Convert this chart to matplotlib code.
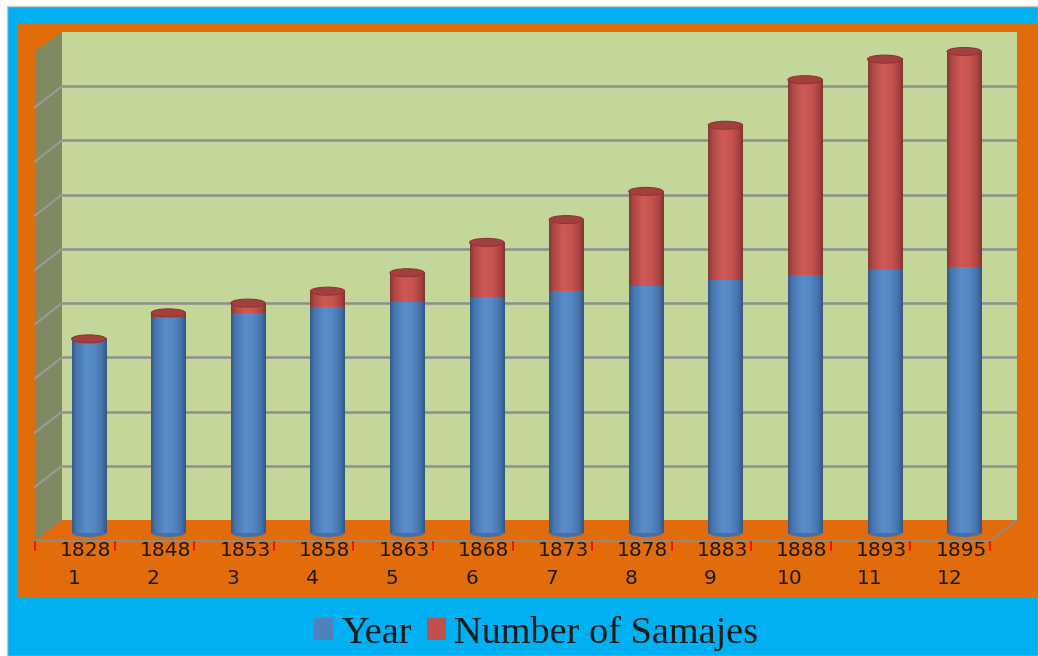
import numpy as np
import matplotlib
matplotlib.use('Agg')
import matplotlib.pyplot as plt
from matplotlib.patches import Rectangle, Polygon, Ellipse
from matplotlib.colors import LinearSegmentedColormap
from matplotlib.transforms import offset_copy

# ---- data ----
years = [1828, 1848, 1853, 1858, 1863, 1868, 1873, 1878, 1883, 1888, 1893, 1895]
index_labels = ['1', '2', '3', '4', '5', '6', '7', '8', '9', '10', '11', '12']
samajes = [1, 5, 9, 15, 27, 50, 66, 87, 143, 180, 194, 199]
series_names = ['Year', 'Number of Samajes']
y_min, y_max, y_step = 1650, 2100, 50

# ---- figure ----
W, H = 1038, 656
fig = plt.figure(figsize=(W / 100, H / 100), dpi=100)
fig.patch.set_facecolor('white')

bg = fig.add_axes([0, 0, 1, 1])
bg.set_xlim(0, W)
bg.set_ylim(H, 0)
bg.axis('off')
bg.add_patch(Rectangle((7, 6), W - 7, H - 6, fc='#00B0F0', ec='#C8C8C8', lw=1))
bg.add_patch(Rectangle((18, 23), W - 18, 597 - 23, fc='#E36C0A', ec='none'))

# plot wall geometry (pixels)
L, R, T, B = 62, 1017, 32, 520
DX, DY = 27, 21  # depth of 3D box
bg.add_patch(Polygon([(L - DX, T + DY - 2), (L, T), (L, B), (L - DX, B + DY)],
                     closed=True, fc='#7F8A63', ec='none'))
bg.plot([L - DX, R - DX, R], [B + DY, B + DY, B], color='#8C8C8C', lw=1.3)

ax = fig.add_axes([L / W, 1 - B / H, (R - L) / W, (B - T) / H])
ax.set_facecolor('#C4D79B')
ticks = np.arange(y_min + y_step, y_max, y_step)
ax.set_yticks(ticks)
ax.yaxis.grid(True, color='#8E8E8E', lw=1.8)
ax.set_axisbelow(True)
ax.tick_params(left=False, bottom=False, labelleft=False, labelbottom=False)
for s in ax.spines.values():
    s.set_visible(False)

# side-wall gridlines, from tick values
for t in ticks:
    yp = B - (t - y_min) / (y_max - y_min) * (B - T)
    bg.plot([L, L - DX], [yp, yp + DY], color='#9A9A9A', lw=1.5)

# ---- cylinders ----
n = len(years)
x = np.arange(n)
bw = 0.43
shift = offset_copy(ax.transData, fig=fig, x=-13, y=-13, units='dots')
yr = np.array(years, dtype=float)
tot = yr + np.array(samajes, dtype=float)

b1 = ax.bar(x, yr - y_min, bottom=y_min, width=bw, color='#4F81BD',
            transform=shift, clip_on=False, zorder=3, label=series_names[0])
b2 = ax.bar(x, tot - yr, bottom=yr, width=bw, color='#C0504D',
            transform=shift, clip_on=False, zorder=3, label=series_names[1])

cmap_b = LinearSegmentedColormap.from_list('b', [(0, '#365A88'), (0.12, '#4674AE'),
                                                 (0.4, '#5A8DCC'), (0.65, '#5587C4'),
                                                 (0.88, '#4470A8'), (1, '#34557F')])
cmap_r = LinearSegmentedColormap.from_list('r', [(0, '#873735'), (0.12, '#AE4744'),
                                                 (0.4, '#CF5956'), (0.65, '#C9534F'),
                                                 (0.88, '#A94441'), (1, '#803332')])
grad = np.linspace(0, 1, 128).reshape(1, -1)
ell_h = 8 * (y_max - y_min) / (B - T)
for xi, y0, y1 in zip(x, yr, tot):
    ax.add_patch(Ellipse((xi, y_min), bw, ell_h, fc='#4470A8', ec='none',
                         transform=shift, clip_on=False, zorder=2.9))
    ax.imshow(grad, cmap=cmap_b, extent=(xi - bw / 2, xi + bw / 2, y_min, y0),
              aspect='auto', transform=shift, clip_on=False, zorder=3.1,
              interpolation='bilinear')
    ax.imshow(grad, cmap=cmap_r, extent=(xi - bw / 2, xi + bw / 2, y0, y1),
              aspect='auto', transform=shift, clip_on=False, zorder=3.1,
              interpolation='bilinear')
    ax.add_patch(Ellipse((xi, y1), bw, ell_h, fc='#A3403D', ec='#8E3634', lw=0.8,
                         transform=shift, clip_on=False, zorder=3.3))

ax.set_xlim(-0.5, n - 0.5)
ax.set_ylim(y_min, y_max)

# ---- category labels ----
tr_year = offset_copy(ax.get_xaxis_transform(), fig=fig, x=-16, y=-21, units='dots')
tr_idx = offset_copy(ax.get_xaxis_transform(), fig=fig, x=-28, y=-49, units='dots')
for xi, yl, il in zip(x, years, index_labels):
    ax.text(xi, 0, str(yl), transform=tr_year, ha='center', va='top',
            fontsize=14.5, color='#1A1A1A', clip_on=False)
    ax.text(xi, 0, il, transform=tr_idx, ha='center', va='top',
            fontsize=14.5, color='#1A1A1A', clip_on=False)

# red category boundary marks
tr_tick = offset_copy(ax.get_xaxis_transform(), fig=fig, x=-DX, y=-DY - 1, units='dots')
tick_len = 8 / (B - T)
for k in range(n + 1):
    ax.plot([k - 0.5, k - 0.5], [0, -tick_len], color='#FF0000', lw=1.2,
            transform=tr_tick, clip_on=False)

# ---- legend ----
fig.legend(handles=[b1, b2], labels=series_names, loc='center',
           bbox_to_anchor=(536 / W, 1 - 633 / H), ncol=2, frameon=False,
           prop={'family': 'Liberation Serif', 'size': 27.5},
           handlelength=0.5, handleheight=0.5, handletextpad=0.21,
           columnspacing=0.39, labelcolor='#1A1A1A')

fig.savefig('out.png', dpi=100, facecolor=fig.get_facecolor())
